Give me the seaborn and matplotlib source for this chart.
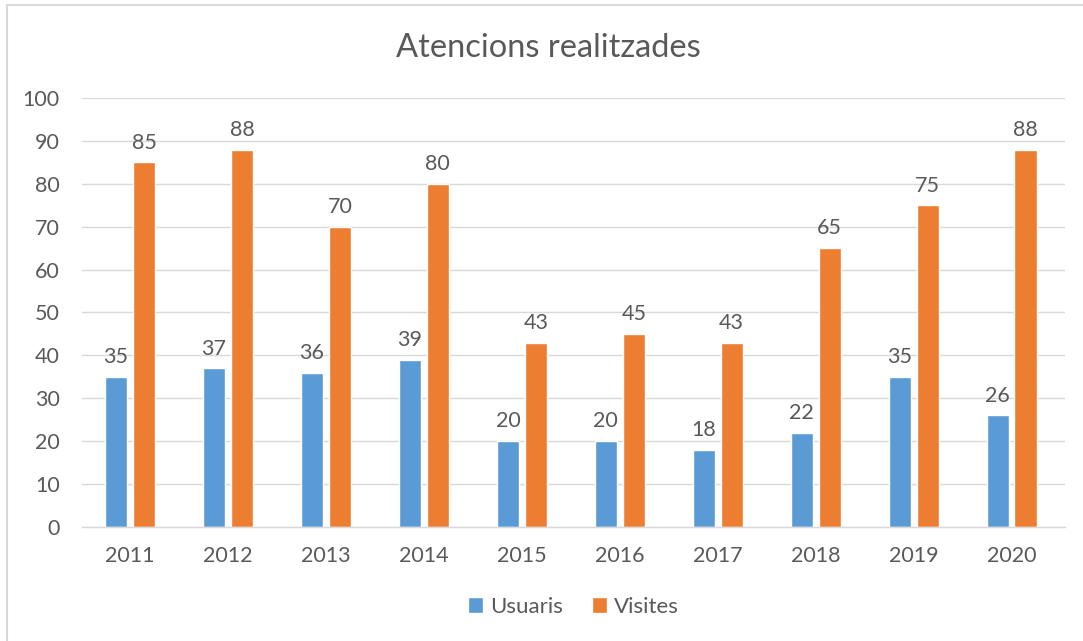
import matplotlib
matplotlib.use("Agg")
import matplotlib.pyplot as plt
import seaborn as sns
import pandas as pd
from matplotlib.patches import Rectangle

years = ["2011", "2012", "2013", "2014", "2015", "2016", "2017", "2018", "2019", "2020"]
usuaris = [35, 37, 36, 39, 20, 20, 18, 22, 35, 26]
visites = [85, 88, 70, 80, 43, 45, 43, 65, 75, 88]
series_names = ["Usuaris", "Visites"]
colors = ["#5B9BD5", "#ED7D31"]
yticks = list(range(0, 101, 10))

df = pd.DataFrame({
    "Any": years * 2,
    "Valor": usuaris + visites,
    "Serie": [series_names[0]] * len(years) + [series_names[1]] * len(years),
})

sns.set_theme(style="white")
plt.rcParams["font.family"] = ["Lato", "DejaVu Sans"]
text_color = "#595959"

fig = plt.figure(figsize=(10.83, 6.41), dpi=100)
ax = fig.add_axes([0.0757, 0.178, 0.983 - 0.0757, 0.847 - 0.178])

sns.barplot(data=df, x="Any", y="Valor", hue="Serie", palette=colors,
            width=0.57, gap=0.2, ax=ax, saturation=1, legend=True)

for cont in ax.containers:
    ax.bar_label(cont, padding=7, fontsize=15.5, color=text_color)

ax.set_ylim(0, 100)
ax.set_yticks(yticks)
ax.set_xlim(-0.49, 9.54)
ax.yaxis.grid(True, color="#D9D9D9", linewidth=1)
ax.set_axisbelow(True)
for s in ["top", "right", "left"]:
    ax.spines[s].set_visible(False)
ax.spines["bottom"].set_color("#D9D9D9")
ax.spines["bottom"].set_linewidth(1)
ax.tick_params(axis="both", length=0, labelsize=15.5, labelcolor=text_color)
ax.tick_params(axis="y", pad=16)
ax.tick_params(axis="x", pad=14)
ax.set_xlabel("")
ax.set_ylabel("")

fig.text(0.506, 0.925, "Atencions realitzades", ha="center", va="center",
         fontsize=23.5, color=text_color)

leg = ax.legend(loc="center", bbox_to_anchor=(0.5, -0.186), ncol=2, frameon=False,
                fontsize=16, handlelength=0.7, handleheight=0.7, handletextpad=0.3,
                columnspacing=1.3)
for t in leg.get_texts():
    t.set_color(text_color)

fig.patches.append(Rectangle((7 / 1083, -0.1), 1.2, 1.1 - 5 / 641, transform=fig.transFigure,
                             fill=False, edgecolor="#D9D9D9", linewidth=1.5))

fig.savefig("out.png", dpi=100)
